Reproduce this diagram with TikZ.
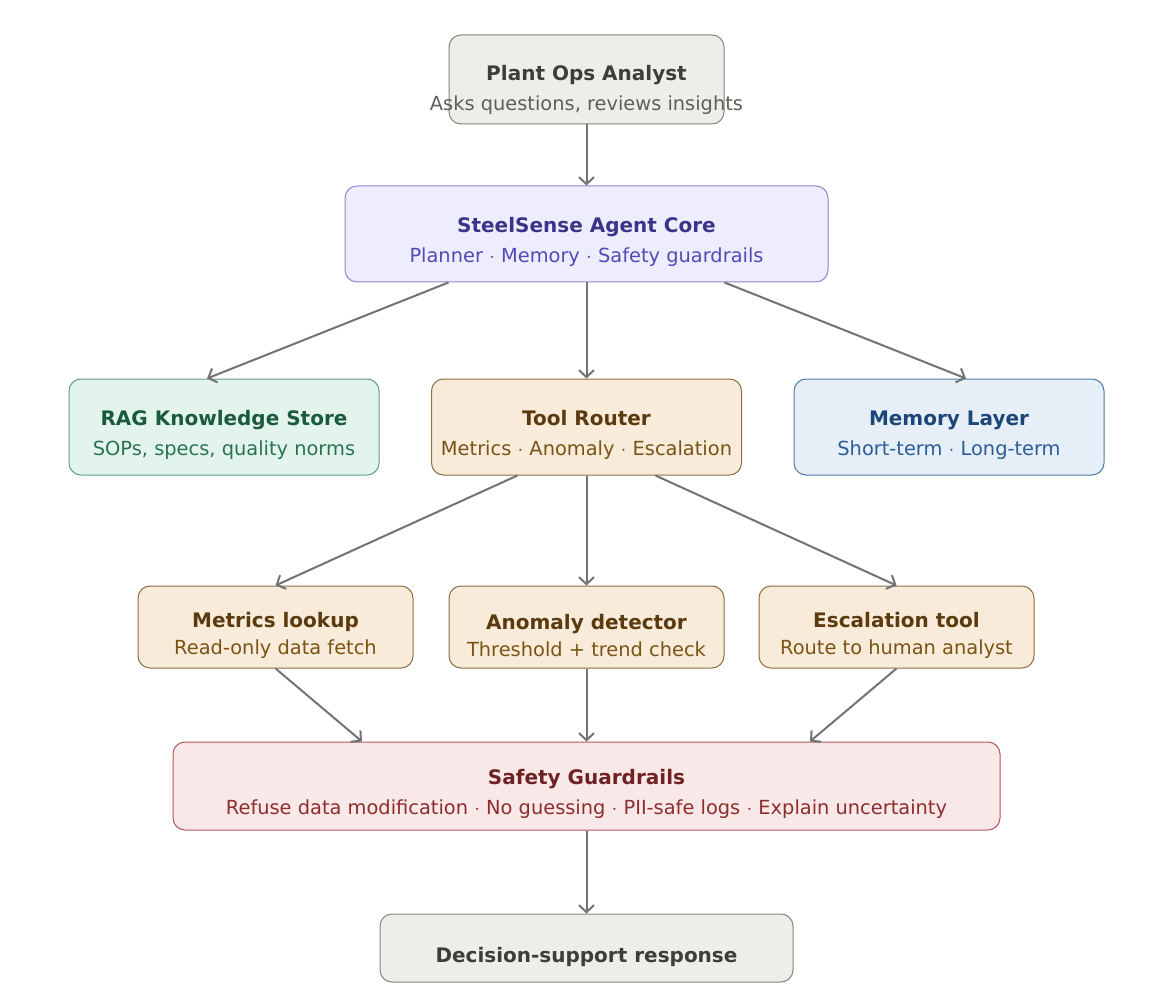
\documentclass[tikz,border=0pt]{standalone}
\usepackage{fontspec}
\setmainfont{DejaVu Sans}
\usetikzlibrary{arrows.meta}

\definecolor{userfill}{HTML}{EEEEE8}
\definecolor{userline}{HTML}{85847E}
\definecolor{usertitle}{HTML}{3D3D3A}
\definecolor{usersub}{HTML}{5F5E5A}
\definecolor{corefill}{HTML}{EEEDFD}
\definecolor{coreline}{HTML}{8E87CF}
\definecolor{coretitle}{HTML}{3C3489}
\definecolor{coresub}{HTML}{534AB7}
\definecolor{ragfill}{HTML}{E3F4EC}
\definecolor{ragline}{HTML}{5F9E84}
\definecolor{ragtitle}{HTML}{1A5A3E}
\definecolor{ragsub}{HTML}{2A7256}
\definecolor{toolfill}{HTML}{F8EBD9}
\definecolor{toolline}{HTML}{8D6E42}
\definecolor{tooltitle}{HTML}{5A3A0E}
\definecolor{toolsub}{HTML}{7A5316}
\definecolor{memfill}{HTML}{E6EEF8}
\definecolor{memline}{HTML}{4F7CAA}
\definecolor{memtitle}{HTML}{1B4677}
\definecolor{memsub}{HTML}{2C5E96}
\definecolor{safefill}{HTML}{F9E8E8}
\definecolor{safeline}{HTML}{B2595F}
\definecolor{safetitle}{HTML}{6E2222}
\definecolor{safesub}{HTML}{8E2D2D}
\definecolor{arrowgray}{HTML}{737373}

\newcommand{\boxtitle}[2][31pt]{\rule{0pt}{#1}{\fontsize{20}{30}\selectfont\bfseries #2}}

\tikzset{
  box/.style={draw, rounded corners=12pt, line width=1pt, align=center, inner sep=0pt,
    font=\fontsize{19.4}{30}\selectfont},
  userbox/.style={box, fill=userfill, draw=userline, text=usertitle},
  corebox/.style={box, fill=corefill, draw=coreline, text=coretitle},
  ragbox/.style={box, fill=ragfill, draw=ragline, text=ragtitle},
  toolbox/.style={box, fill=toolfill, draw=toolline, text=tooltitle},
  membox/.style={box, fill=memfill, draw=memline, text=memtitle},
  safebox/.style={box, fill=safefill, draw=safeline, text=safetitle},
  flow/.style={-{Straight Barb[length=7pt,width=15pt]}, draw=arrowgray, line width=2pt},
}

\begin{document}
\begin{tikzpicture}[x=1pt,y=-1pt]
  \fill[white] (0,0) rectangle (1173,1000);
  \useasboundingbox (0,0) rectangle (1173,1000);

  % top row
  \node[userbox, minimum width=275pt, minimum height=89pt] (analyst) at (586.5,79.5)
    {\boxtitle[37pt]{Plant Ops Analyst}\\\makebox[0pt]{\color{usersub}Asks questions, reviews insights}};
  \node[corebox, minimum width=483pt, minimum height=96pt] (core) at (586.5,234)
    {\boxtitle{SteelSense Agent Core}\\{\color{coresub}Planner $\cdot$ Memory $\cdot$ Safety guardrails}};

  % middle row
  \node[ragbox, minimum width=310pt, minimum height=96pt] (rag) at (224,427)
    {\boxtitle{RAG Knowledge Store}\\{\color{ragsub}SOPs, specs, quality norms}};
  \node[toolbox, minimum width=310pt, minimum height=96pt] (router) at (586.5,427)
    {\boxtitle{Tool Router}\\{\color{toolsub}Metrics $\cdot$ Anomaly $\cdot$ Escalation}};
  \node[membox, minimum width=310pt, minimum height=96pt] (memory) at (949,427)
    {\boxtitle{Memory Layer}\\{\color{memsub}Short-term $\cdot$ Long-term}};

  % tools
  \node[toolbox, minimum width=275pt, minimum height=82pt] (metrics) at (275.5,627)
    {\boxtitle[33pt]{Metrics lookup}\\[-3pt]{\color{toolsub}Read-only data fetch}};
  \node[toolbox, minimum width=275pt, minimum height=82pt] (anomaly) at (586.5,627)
    {\boxtitle[33pt]{Anomaly detector}\\[-3pt]{\color{toolsub}Threshold + trend check}};
  \node[toolbox, minimum width=275pt, minimum height=82pt] (escalate) at (896.5,627)
    {\boxtitle[33pt]{Escalation tool}\\[-3pt]{\color{toolsub}Route to human analyst}};

  % bottom
  \node[safebox, minimum width=827pt, minimum height=88pt] (safety) at (586.5,786)
    {\boxtitle{Safety Guardrails}\\{\color{safesub}Refuse data modification $\cdot$ No guessing $\cdot$ PII-safe logs $\cdot$ Explain uncertainty}};
  \node[userbox, minimum width=413pt, minimum height=68pt] (response) at (586.5,948)
    {\boxtitle[34pt]{Decision-support response}};

  % connectors
  \draw[flow] (analyst.south) -- (core.north);
  \draw[flow] ([xshift=-138pt]core.south) -- ([xshift=-17pt]rag.north);
  \draw[flow] (core.south) -- (router.north);
  \draw[flow] ([xshift=138pt]core.south) -- ([xshift=17pt]memory.north);
  \draw[flow] ([xshift=-69pt]router.south) -- (metrics.north);
  \draw[flow] (router.south) -- (anomaly.north);
  \draw[flow] ([xshift=69pt]router.south) -- (escalate.north);
  \draw[flow] (metrics.south) -- ([xshift=-224.5pt]safety.north);
  \draw[flow] (anomaly.south) -- (safety.north);
  \draw[flow] (escalate.south) -- ([xshift=223.5pt]safety.north);
  \draw[flow] (safety.south) -- (response.north);
\end{tikzpicture}
\end{document}
